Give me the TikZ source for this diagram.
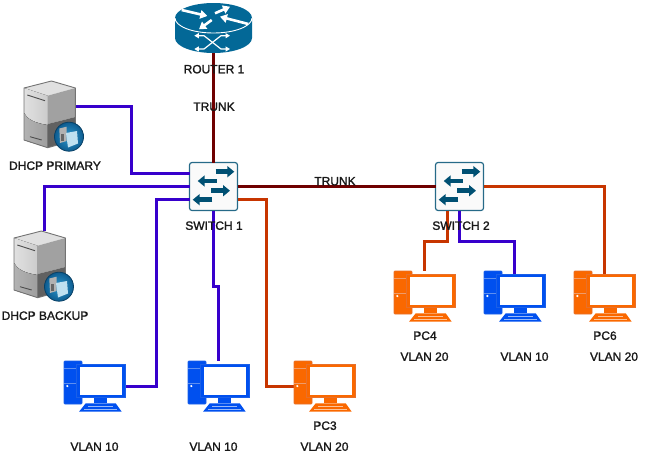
\documentclass[tikz,border=0pt]{standalone}
\usepackage{fontspec}
\setmainfont{Liberation Sans}
\newfontfamily\labelfont[FakeBold=1.6]{Liberation Sans}
\usetikzlibrary{arrows.meta}

\definecolor{vlanten}{HTML}{3700CC}
\definecolor{vlantwenty}{HTML}{C73500}
\definecolor{trunkred}{HTML}{6F0000}
\definecolor{ciscoblue}{HTML}{036897}
\definecolor{switchblue}{HTML}{005073}
\definecolor{pcblue}{HTML}{0050EF}
\definecolor{pcblueline}{HTML}{1A5FE8}
\definecolor{pcorange}{HTML}{FA6800}
\definecolor{pcorangeline}{HTML}{E8702A}
\definecolor{badgein}{HTML}{2F9AD0}
\definecolor{badgeout}{HTML}{0D5C90}
\definecolor{badgescreen}{HTML}{BFE0F0}

\tikzset{
  link/.style={line width=3pt},
  tenlink/.style={link,vlanten},
  twentylink/.style={link,vlantwenty},
  trunklink/.style={link,trunkred},
  lbl/.style={font=\labelfont\fontsize{12}{14}\selectfont,inner sep=0pt,text height=8.6pt,text depth=0pt,text=black!90},
  pcbox/.style={minimum width=61pt,minimum height=51pt,inner sep=0pt,outer sep=0pt,anchor=north west},
  srvbox/.style={minimum width=60pt,minimum height=71pt,inner sep=0pt,outer sep=0pt,anchor=north west},
  swbox/.style={draw=switchblue!85!white,line width=1.2pt,fill=black!2,rounded corners=2.5pt,minimum size=48pt,inner sep=0pt,outer sep=0pt},
  rtbox/.style={minimum width=77pt,minimum height=50pt,inner sep=0pt,outer sep=0pt},
  swarrow/.style={switchblue,line width=4.5pt,-{Triangle[length=7pt,width=11pt]}},
  rtarrow/.style={white,line width=2.6pt,-{Triangle[length=7pt,width=8.5pt]}},
  rtcross/.style={white,line width=1.2pt,{Triangle[length=4.5pt,width=5pt]}-{Triangle[length=4.5pt,width=5pt]}},
  pics/pcicon/.style 2 args={code={
    % tower
    \draw[fill=#1,draw=#2,rounded corners=1pt,line width=0.8pt] (0,0) rectangle (18,43);
    \draw[#2!70!white,line width=0.6pt] (0,7.5) -- (13,7.5) (0,22) -- (13,22);
    \fill[white] (3.3,25) circle (1.2);
    % monitor
    \draw[fill=white,draw=#1,line width=3pt] (14.3,4.9) rectangle (59.5,35.2);
    \draw[#2,line width=0.5pt] (12.7,3.3) rectangle (61,36.7);
    % stand and keyboard
    \fill[#1] (30.3,36.7) rectangle (42.7,42.3);
    \fill[#1] (21.7,42.3) -- (51.7,42.3) -- (57.7,50.7) -- (15,50.7) -- cycle;
    \draw[white!60!#1,line width=0.4pt] (24,45) -- (49,45) (20,48) -- (53,48);
  }},
  pics/srvicon/.style={code={
    % box faces
    \fill[black!12] (0,7) -- (27.5,0) -- (51.4,7) -- (23.7,14.7) -- cycle;
    \fill[left color=black!12,right color=black!20] (0,7) -- (23.7,14.7) -- (23.7,44) .. controls (10,42) and (3,38) .. (0,32) -- cycle;
    \fill[left color=black!30,right color=black!38] (0,32) .. controls (3,38) and (10,42) .. (23.7,44) -- (23.7,66.7) -- (0,59) -- cycle;
    \fill[black!37] (23.7,14.7) -- (51.4,7) -- (51.4,36) -- (23.7,43) -- cycle;
    \fill[black!62] (23.7,43) -- (51.4,36) -- (51.4,59) -- (23.7,66.7) -- cycle;
    \draw[black!55,line width=0.9pt,line join=round] (0,7) -- (27.5,0) -- (51.4,7) -- (51.4,59) -- (23.7,66.7) -- (0,59) -- cycle;
    \draw[black!70,line width=0.9pt] (3.3,14) -- (21,19.7) (6,55.7) -- (17.7,59);
    % badge
    \shade[inner color=badgein,outer color=badgeout,draw=badgeout!70!black,line width=0.8pt] (45,55.7) circle (14.5);
    \fill[black!30] (35.3,47.5) -- (42.7,45.7) -- (42.7,60) -- (36,62) -- cycle;
    \fill[black!60] (37,53) rectangle (39.5,60);
    \fill[badgescreen] (42,52) -- (53,50) -- (54,62.5) -- (44,66.5) -- cycle;
  }},
  pics/swicon/.style={code={
    \draw[swarrow] (2.2,-14.8) -- (20.8,-14.8);
    \draw[swarrow] (3.2,-5.5) -- (-15.8,-5.5);
    \draw[swarrow] (-2.5,4.2) -- (16.5,4.2);
    \draw[swarrow] (-1.2,13.2) -- (-20.8,13.2);
  }}
}

\begin{document}
\begin{tikzpicture}[x=1pt,y=-1pt]
\useasboundingbox (0,0) rectangle (645,461);

% Devices
\node[rtbox] (rt1) at (213.5,28) {};
\node[swbox] (sw1) at (213.5,186.5) {};
\node[swbox] (sw2) at (459.5,186.5) {};
\node[srvbox] (srv1) at (24,81) {};
\node[srvbox] (srv2) at (14,231) {};
\node[pcbox] (pc1) at (64,361) {};
\node[pcbox] (pc2) at (188,361) {};
\node[pcbox] (pc3) at (294,361) {};
\node[pcbox] (pc4) at (394,271) {};
\node[pcbox] (pc5) at (484,271) {};
\node[pcbox] (pc6) at (574,271) {};

% Trunks
\draw[trunklink] (rt1.south) -- (sw1.north);
\draw[trunklink] (sw1.east) -- (sw2.west);

% Switch 1 links
\draw[tenlink] ([xshift=-8pt,yshift=10pt]srv1.east) -- (131,106.5) |- ([yshift=13pt]sw1.west);
\draw[tenlink] (srv2.north) |- (sw1.west);
\draw[tenlink] (pc1.east) -- (156,386.5) |- ([yshift=-12.5pt]sw1.west);
\draw[tenlink] (sw1.south) -- (213.5,286) -- (218.5,286) -- (pc2.north);
\draw[twentylink] ([yshift=-12.5pt]sw1.east) -- (266.5,199) |- (pc3.west);

% Switch 2 links
\draw[twentylink] ([xshift=-12.5pt]sw2.south) -- (447,241.5) -| (pc4.north);
\draw[tenlink,shorten >=-3.5pt] (sw2.south) -- (459.5,241.5) -| (pc5.north);
\draw[twentylink,shorten >=-3.5pt] (sw2.east) -| (pc6.north);

% Router
\fill[ciscoblue] (175,18) -- (175,38) arc[start angle=180,end angle=360,x radius=38.5,y radius=-15] -- (252,18) arc[start angle=0,end angle=180,x radius=38.5,y radius=-15] -- cycle;
\draw[white,line width=0.9pt] (175,18) arc[start angle=180,end angle=360,x radius=38.5,y radius=-15];
\draw[rtarrow] (181.7,10) -- (207.3,16);
\draw[rtarrow] (215,13.3) -- (230,6.7);
\draw[rtarrow] (248.3,24) -- (220,16.7);
\draw[rtarrow] (211.7,20) -- (199,29.3);
\draw[rtcross] (194.3,35.7) -- (204,35.7) -- (221,49) -- (230,49);
\draw[rtcross] (194.3,49) -- (204,49) -- (221,35.7) -- (230,35.7);

% Icons
\pic at (sw1.center) {swicon};
\pic at (sw2.center) {swicon};
\pic at (srv1.north west) {srvicon};
\pic at (srv2.north west) {srvicon};
\foreach \pcname in {pc1,pc2,pc5}
  \pic at (\pcname.north west) {pcicon={pcblue}{pcblueline}};
\foreach \pcname in {pc3,pc4,pc6}
  \pic at (\pcname.north west) {pcicon={pcorange}{pcorangeline}};

% Labels
\node[lbl] (rtlabel) at (214,69) {ROUTER 1};
\node[lbl] (uptrunk) at (214,106.5) {TRUNK};
\node[lbl] (sidetrunk) at (335,181) {TRUNK};
\node[lbl] (sw1label) at (214,225.5) {SWITCH 1};
\node[lbl] (sw2label) at (461,225.5) {SWITCH 2};
\node[lbl] (srv1label) at (55,165.5) {DHCP PRIMARY};
\node[lbl] (srv2label) at (45,315.5) {DHCP BACKUP};
\node[lbl] (pc3label) at (325,425.5) {PC3};
\node[lbl] (pc4label) at (425,335.5) {PC4};
\node[lbl] (pc6label) at (605,335.5) {PC6};
\node[lbl] (vlan1) at (94.5,446.5) {VLAN 10};
\node[lbl] (vlan2) at (213.5,446.5) {VLAN 10};
\node[lbl] (vlan3) at (324.5,446.5) {VLAN 20};
\node[lbl] (vlan4) at (424.5,356.5) {VLAN 20};
\node[lbl] (vlan5) at (524.5,356.5) {VLAN 10};
\node[lbl] (vlan6) at (614,356.5) {VLAN 20};
\end{tikzpicture}
\end{document}
